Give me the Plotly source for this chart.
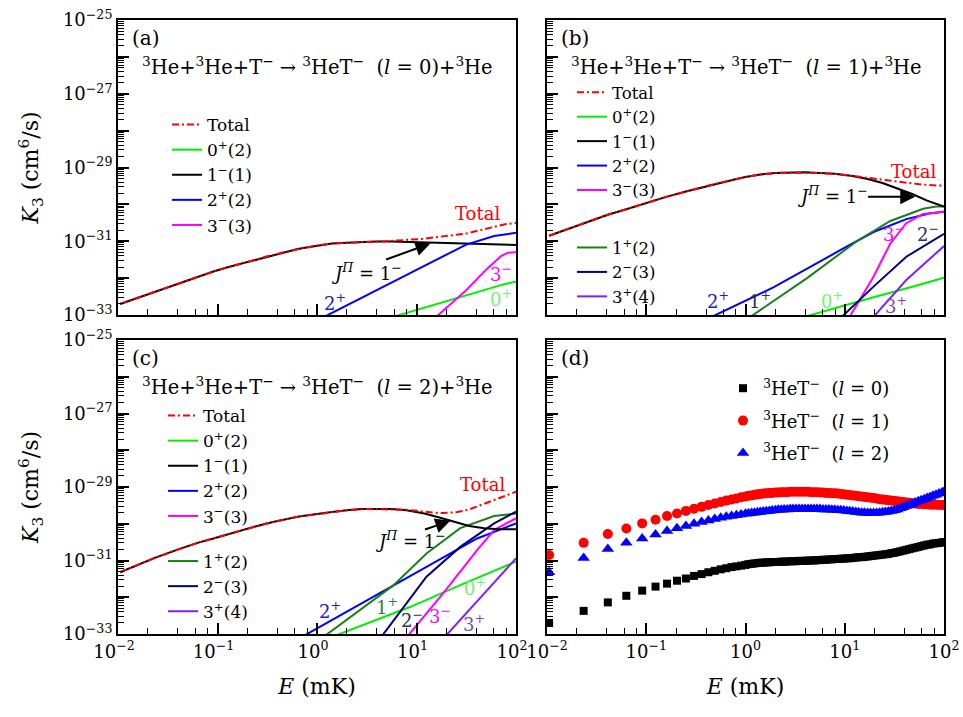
import numpy as np
import plotly.graph_objects as go

# ---------------- data ----------------
# Energies in mK; K3 values stored as log10(K3 / (cm^6/s)).
energy_grid_mK = [
    0.0105, 0.0234, 0.041, 0.063, 0.091, 0.124, 0.162, 0.204, 0.251, 0.303,
    0.361, 0.423, 0.49, 0.563, 0.64, 0.723, 0.81, 0.903, 1.0,
    1.07, 1.15, 1.23, 1.32, 1.41, 1.51, 1.62, 1.74, 1.86, 2.0,
    2.14, 2.29, 2.45, 2.63, 2.82, 3.02, 3.24, 3.47, 3.72, 3.98,
    4.27, 4.57, 4.90, 5.25, 5.62, 6.03, 6.46, 6.92, 7.41, 7.94,
    8.51, 9.12, 9.77, 10.5, 11.2, 12.0, 12.9, 13.8, 14.8, 15.8,
    17.0, 18.2, 19.5, 20.9, 22.4, 24.0, 25.7, 27.5, 29.5, 31.6,
    33.9, 36.3, 38.9, 41.7, 44.7, 47.9, 51.3, 55.0, 58.9, 63.1,
    67.6, 72.4, 77.6, 83.2, 89.1, 95.5, 100.0]

log_k3_total_l0 = [
    -32.70, -32.37, -32.14, -31.96, -31.82, -31.71, -31.63, -31.55, -31.49, -31.42,
    -31.37, -31.32, -31.28, -31.24, -31.21, -31.18, -31.16, -31.14, -31.12,
    -31.10, -31.09, -31.08, -31.07, -31.06, -31.06, -31.05, -31.05, -31.04, -31.04,
    -31.04, -31.03, -31.03, -31.03, -31.02, -31.02, -31.02, -31.01, -31.01, -31.01,
    -31.00, -31.00, -31.00, -30.99, -30.99, -30.98, -30.98, -30.97, -30.97, -30.96,
    -30.96, -30.95, -30.95, -30.94, -30.94, -30.93, -30.92, -30.91, -30.91, -30.90,
    -30.89, -30.88, -30.87, -30.86, -30.85, -30.84, -30.83, -30.82, -30.80, -30.79,
    -30.77, -30.75, -30.73, -30.71, -30.69, -30.67, -30.65, -30.63, -30.61, -30.59,
    -30.57, -30.56, -30.54, -30.53, -30.52, -30.51, -30.50]

log_k3_total_l1 = [
    -30.85, -30.52, -30.28, -30.13, -29.99, -29.89, -29.79, -29.72, -29.65, -29.59,
    -29.54, -29.49, -29.45, -29.41, -29.37, -29.34, -29.31, -29.28, -29.26,
    -29.24, -29.23, -29.21, -29.20, -29.19, -29.18, -29.17, -29.16, -29.16, -29.15,
    -29.15, -29.14, -29.14, -29.14, -29.13, -29.13, -29.13, -29.13, -29.13, -29.13,
    -29.13, -29.14, -29.14, -29.14, -29.15, -29.15, -29.16, -29.16, -29.17, -29.17,
    -29.18, -29.19, -29.20, -29.21, -29.22, -29.23, -29.24, -29.25, -29.26, -29.27,
    -29.28, -29.29, -29.30, -29.31, -29.33, -29.34, -29.35, -29.36, -29.37, -29.38,
    -29.39, -29.40, -29.41, -29.42, -29.43, -29.44, -29.45, -29.46, -29.46, -29.47,
    -29.47, -29.48, -29.48, -29.48, -29.49, -29.49, -29.49]

log_k3_total_l2 = [
    -31.32, -30.93, -30.69, -30.52, -30.40, -30.29, -30.20, -30.12, -30.06, -30.00,
    -29.95, -29.91, -29.87, -29.84, -29.81, -29.79, -29.77, -29.75, -29.73,
    -29.72, -29.71, -29.70, -29.69, -29.68, -29.67, -29.66, -29.65, -29.64, -29.63,
    -29.62, -29.62, -29.61, -29.61, -29.60, -29.60, -29.60, -29.60, -29.60, -29.60,
    -29.60, -29.60, -29.60, -29.60, -29.60, -29.61, -29.61, -29.61, -29.62, -29.62,
    -29.63, -29.63, -29.64, -29.65, -29.66, -29.67, -29.68, -29.69, -29.70, -29.70,
    -29.71, -29.71, -29.71, -29.71, -29.70, -29.69, -29.68, -29.67, -29.65, -29.63,
    -29.61, -29.58, -29.55, -29.52, -29.49, -29.46, -29.42, -29.39, -29.36, -29.33,
    -29.30, -29.27, -29.24, -29.21, -29.18, -29.15, -29.13]

# J^Pi = 1^- (1) partial rate for each panel
energy_1minus_mK = [0.0105, 0.0234, 0.041, 0.063, 0.091, 0.124, 0.162, 0.251, 0.361,
                    0.49, 0.64, 0.81, 1.0, 1.41, 2.0, 2.82, 3.98, 5.62, 7.94, 12.0,
                    17.0, 24.0, 33.9, 47.9, 67.6, 100.0]
log_k3_1minus_l0 = [-32.70, -32.37, -32.14, -31.96, -31.82, -31.71, -31.63, -31.49, -31.37,
                    -31.28, -31.21, -31.16, -31.12, -31.06, -31.04, -31.02, -31.01, -31.01,
                    -31.02, -31.04, -31.05, -31.07, -31.08, -31.09, -31.10, -31.10]
log_k3_1minus_l1 = [-30.85, -30.52, -30.28, -30.13, -29.99, -29.89, -29.79, -29.65, -29.54,
                    -29.45, -29.37, -29.31, -29.26, -29.19, -29.15, -29.13, -29.13, -29.15,
                    -29.17, -29.23, -29.31, -29.42, -29.56, -29.72, -29.90, -30.06]
log_k3_1minus_l2 = [-31.32, -30.93, -30.69, -30.52, -30.40, -30.29, -30.20, -30.06, -29.95,
                    -29.87, -29.81, -29.77, -29.73, -29.68, -29.63, -29.60, -29.60, -29.60,
                    -29.63, -29.72, -29.83, -29.95, -30.06, -30.12, -30.15, -30.15]

# panel (a), l = 0
a_0plus_E = [6.0, 15.8, 39.8, 79.4, 100.0]
a_0plus_K = [-33.04, -32.70, -32.38, -32.15, -32.10]
a_2plus_E = [1.0, 3.16, 10.0, 31.6, 60.3, 100.0]
a_2plus_K = [-33.15, -32.46, -31.76, -31.09, -30.86, -30.77]
a_3minus_E = [15.8, 31.6, 50.1, 70.8, 83.2, 100.0]
a_3minus_K = [-33.05, -32.33, -31.77, -31.40, -31.31, -31.30]

# panel (b), l = 1
b_0plus_E = [4.17, 10.0, 19.5, 50.1, 100.0]
b_0plus_K = [-33.03, -32.73, -32.52, -32.22, -31.99]
b_2plus_E = [0.457, 1.91, 8.91, 19.5, 41.7, 70.8, 100.0]
b_2plus_K = [-33.05, -32.25, -31.25, -30.75, -30.40, -30.25, -30.20]
b_3minus_E = [11.2, 19.5, 28.8, 41.7, 61.7, 100.0]
b_3minus_K = [-33.05, -31.96, -31.06, -30.51, -30.26, -30.20]
b_1plus_E = [1.12, 4.17, 13.2, 19.5, 28.8, 61.7, 83.2, 100.0]
b_1plus_K = [-33.05, -32.00, -31.00, -30.72, -30.45, -30.12, -30.06, -30.06]
b_2minus_E = [9.33, 19.5, 41.7, 100.0]
b_2minus_K = [-33.05, -32.23, -31.42, -30.80]
b_3plus_E = [19.5, 41.7, 100.0]
b_3plus_K = [-33.05, -32.05, -31.13]

# panel (c), l = 2
c_0plus_E = [1.58, 8.71, 27.5, 100.0]
c_0plus_K = [-33.03, -32.26, -31.67, -31.03]
c_2plus_E = [0.76, 5.89, 18.6, 40.7, 100.0]
c_2plus_K = [-33.03, -31.67, -30.90, -30.40, -29.99]
c_3minus_E = [8.32, 18.6, 40.7, 60.3, 100.0]
c_3minus_K = [-33.03, -31.89, -30.72, -30.17, -29.85]
c_1plus_E = [1.23, 5.89, 12.6, 27.5, 60.3, 100.0]
c_1plus_K = [-33.03, -31.67, -30.81, -30.12, -29.79, -29.72]
c_2minus_E = [4.57, 12.6, 27.5, 60.3, 100.0]
c_2minus_K = [-33.03, -31.44, -30.63, -29.99, -29.67]
c_3plus_E = [20.0, 100.0]
c_3plus_K = [-33.03, -30.94]

x_tick_values = [0.01, 0.1, 1, 10, 100]
x_tick_labels = ["10<sup>\u22122</sup>", "10<sup>\u22121</sup>", "10<sup>0</sup>",
                 "10<sup>1</sup>", "10<sup>2</sup>"]
y_tick_exponents = [-33, -32, -31, -30, -29, -28, -27, -26, -25]

# ---------------- styling ----------------
FONT = "DejaVu Serif"
C_TOTAL = "#ff0000"
C_0P = "#00ee00"
C_1M = "#000000"
C_2P = "#0000ff"
C_3M = "#ff00ff"
C_1P = "#1a7f1a"
C_2M = "#000080"
C_3P = "#7f1fff"


def kv(v):
    return np.power(10.0, np.asarray(v, dtype=float))


fig = go.Figure()


def add_line(E, K, name, color, xa, ya, legend, rank, group="g1", dash="solid", width=2):
    fig.add_trace(go.Scatter(
        x=E, y=kv(K), mode="lines", name=name,
        line=dict(color=color, width=width, dash=dash),
        xaxis=xa, yaxis=ya, legend=legend, legendrank=rank, legendgroup=group))


DASHDOT = "7px,3px,2px,3px"

# panel (a)
add_line(a_0plus_E, a_0plus_K, "0<sup>+</sup>(2)", C_0P, "x", "y", "legend", 2)
add_line(energy_1minus_mK, log_k3_1minus_l0, "1<sup>\u2212</sup>(1)", C_1M, "x", "y", "legend", 3)
add_line(a_2plus_E, a_2plus_K, "2<sup>+</sup>(2)", C_2P, "x", "y", "legend", 4)
add_line(a_3minus_E, a_3minus_K, "3<sup>\u2212</sup>(3)", C_3M, "x", "y", "legend", 5)
add_line(energy_grid_mK, log_k3_total_l0, "Total", C_TOTAL, "x", "y", "legend", 1, dash=DASHDOT)

# panel (b)
add_line(b_0plus_E, b_0plus_K, "0<sup>+</sup>(2)", C_0P, "x2", "y2", "legend2", 2)
add_line(b_2plus_E, b_2plus_K, "2<sup>+</sup>(2)", C_2P, "x2", "y2", "legend2", 4)
add_line(b_3minus_E, b_3minus_K, "3<sup>\u2212</sup>(3)", C_3M, "x2", "y2", "legend2", 5)
add_line(b_1plus_E, b_1plus_K, "1<sup>+</sup>(2)", C_1P, "x2", "y2", "legend2", 6, group="g2")
add_line(b_2minus_E, b_2minus_K, "2<sup>\u2212</sup>(3)", C_2M, "x2", "y2", "legend2", 7, group="g2")
add_line(b_3plus_E, b_3plus_K, "3<sup>+</sup>(4)", C_3P, "x2", "y2", "legend2", 8, group="g2")
add_line(energy_1minus_mK, log_k3_1minus_l1, "1<sup>\u2212</sup>(1)", C_1M, "x2", "y2", "legend2", 3)
add_line(energy_grid_mK, log_k3_total_l1, "Total", C_TOTAL, "x2", "y2", "legend2", 1, dash=DASHDOT)

# panel (c)
add_line(c_0plus_E, c_0plus_K, "0<sup>+</sup>(2)", C_0P, "x3", "y3", "legend3", 2)
add_line(c_2plus_E, c_2plus_K, "2<sup>+</sup>(2)", C_2P, "x3", "y3", "legend3", 4)
add_line(c_3minus_E, c_3minus_K, "3<sup>\u2212</sup>(3)", C_3M, "x3", "y3", "legend3", 5)
add_line(c_1plus_E, c_1plus_K, "1<sup>+</sup>(2)", C_1P, "x3", "y3", "legend3", 6, group="g2")
add_line(c_2minus_E, c_2minus_K, "2<sup>\u2212</sup>(3)", C_2M, "x3", "y3", "legend3", 7, group="g2")
add_line(c_3plus_E, c_3plus_K, "3<sup>+</sup>(4)", C_3P, "x3", "y3", "legend3", 8, group="g2")
add_line(energy_1minus_mK, log_k3_1minus_l2, "1<sup>\u2212</sup>(1)", C_1M, "x3", "y3", "legend3", 3)
add_line(energy_grid_mK, log_k3_total_l2, "Total", C_TOTAL, "x3", "y3", "legend3", 1, dash=DASHDOT)

# panel (d)
for K, name, sym, col, size, grp in [
        (log_k3_total_l0, "<sup>3</sup>HeT<sup>\u2212</sup>  (<i>l</i> = 0)", "square", "#000000", 8, "d0"),
        (log_k3_total_l1, "<sup>3</sup>HeT<sup>\u2212</sup>  (<i>l</i> = 1)", "circle", "#ff0000", 10, "d1"),
        (log_k3_total_l2, "<sup>3</sup>HeT<sup>\u2212</sup>  (<i>l</i> = 2)", "triangle-up", "#0000ff", 11, "d2")]:
    fig.add_trace(go.Scatter(
        x=energy_grid_mK, y=kv(K), mode="markers", name=name,
        marker=dict(symbol=sym, color=col, size=size, line=dict(width=0)),
        xaxis="x4", yaxis="y4", legend="legend4", legendgroup=grp))

# ---------------- axes ----------------
x_minor = [m * 10.0 ** p for p in range(-2, 2) for m in (2, 4, 6, 8)]
y_minor = [m * 10.0 ** p for p in range(-33, -25) for m in range(2, 10)]
y_tick_values = [10.0 ** e for e in y_tick_exponents]
y_tick_labels = [("10<sup>\u2212%d</sup>" % (-e)) if (e % 2) else "" for e in y_tick_exponents]

XD_L = [118 / 963, 516 / 963]
XD_R = [547 / 963, 944 / 963]
YD_T = [1 - 315 / 717, 1 - 20 / 717]
YD_B = [1 - 634 / 717, 1 - 340 / 717]

tickfont = dict(family=FONT, size=18, color="black")
titlefont = dict(family=FONT, size=22, color="black")


def xax(domain, anchor, labels, title=None, shift=0):
    d = dict(type="log", range=[-2, 2], domain=domain, anchor=anchor,
             showline=True, linecolor="black", linewidth=2, mirror=True,
             ticks="inside", ticklen=11, tickwidth=1.6, tickcolor="black",
             tickmode="array", tickvals=x_tick_values, ticktext=x_tick_labels,
             showticklabels=labels, tickfont=tickfont, showgrid=False, zeroline=False,
             ticklabelshift=shift, ticklabeloverflow="allow",
             minor=dict(ticks="inside", ticklen=6, tickwidth=1.3, tickcolor="black",
                        tickmode="array", tickvals=x_minor, showgrid=False),
             automargin=False)
    if title:
        d["title"] = dict(text=title, font=titlefont, standoff=18)
    return d


def yax(domain, anchor, labels, title=None):
    d = dict(type="log", range=[-33, -25], domain=domain, anchor=anchor,
             showline=True, linecolor="black", linewidth=2, mirror=True,
             ticks="inside", ticklen=11, tickwidth=1.6, tickcolor="black",
             tickmode="array", tickvals=y_tick_values, ticktext=y_tick_labels,
             showticklabels=labels, tickfont=tickfont, showgrid=False, zeroline=False,
             minor=dict(ticks="inside", ticklen=6, tickwidth=1.3, tickcolor="black",
                        tickmode="array", tickvals=y_minor, showgrid=False),
             automargin=False)
    if title:
        d["title"] = dict(text=title, font=titlefont, standoff=18)
    return d


K3_TITLE = "<i>K</i><sub>3</sub> (cm<sup>6</sup>/s)"
E_TITLE = "<i>E</i> (mK)"

fig.update_layout(
    xaxis=xax(XD_L, "y", False), yaxis=yax(YD_T, "x", True, K3_TITLE),
    xaxis2=xax(XD_R, "y2", False), yaxis2=yax(YD_T, "x2", False),
    xaxis3=xax(XD_L, "y3", True, E_TITLE, shift=-4), yaxis3=yax(YD_B, "x3", True, K3_TITLE),
    xaxis4=xax(XD_R, "y4", True, E_TITLE, shift=0), yaxis4=yax(YD_B, "x4", False),
)


def legfont(size):
    return dict(family=FONT, size=size, color="black")


common_leg = dict(xanchor="left", yanchor="top", bgcolor="rgba(0,0,0,0)",
                  borderwidth=0, traceorder="grouped")
fig.update_layout(
    legend=dict(x=167 / 963, y=1 - 107 / 717, tracegroupgap=0, font=legfont(17), **common_leg),
    legend2=dict(x=572 / 963, y=1 - 75 / 717, tracegroupgap=33, font=legfont(16.5), **common_leg),
    legend3=dict(x=163 / 963, y=1 - 398 / 717, tracegroupgap=20, font=legfont(17), **common_leg),
    legend4=dict(x=723 / 963, y=1 - 370 / 717, tracegroupgap=6, font=legfont(18), **common_leg),
)

# ---------------- annotations ----------------
ann = []


def txt(xref, yref, x, y, text, color="black", size=18, xanchor="center"):
    ann.append(dict(xref=xref, yref=yref, x=x, y=y, text=text, showarrow=False,
                    xanchor=xanchor, yanchor="middle",
                    font=dict(family=FONT, size=size, color=color)))


def arrow(xref, yref, tail, head):
    ann.append(dict(xref=xref, yref=yref, axref=xref, ayref=yref,
                    x=head[0], y=head[1], ax=tail[0], ay=tail[1], text="",
                    showarrow=True, arrowhead=2, arrowsize=1.5, arrowwidth=2,
                    arrowcolor="black"))


REACT = ("<sup>3</sup>He+<sup>3</sup>He+T<sup>\u2212</sup> \u2192 <sup>3</sup>HeT<sup>\u2212</sup>"
         "  (<i>l</i> = %d)+<sup>3</sup>He")
JPI = "<i>J</i><sup><i>\u03a0</i></sup> = 1<sup>\u2212</sup>"

for i, (lab, xr, yr) in enumerate([("(a)", "x domain", "y domain"), ("(b)", "x2 domain", "y2 domain"),
                                   ("(c)", "x3 domain", "y3 domain"), ("(d)", "x4 domain", "y4 domain")]):
    txt(xr, yr, 0.03, 0.94, lab, size=20, xanchor="left")
    if i < 3:
        txt(xr, yr, 0.055, 0.843, REACT % i, size=19.5, xanchor="left")

# (a)
txt("x", "y", 0.18, -32.64, "2<sup>+</sup>", "#2222bb")
txt("x", "y", 1.85, -31.87, "3<sup>\u2212</sup>", C_3M)
txt("x", "y", 1.85, -32.55, "0<sup>+</sup>", "#77ee77")
txt("x", "y", 1.61, -30.24, "Total", C_TOTAL)
txt("x", "y", 0.5, -31.83, JPI)
arrow("x", "y", (0.68, -31.51), (1.14, -31.06))
# (b)
txt("x2", "y2", -0.28, -32.6, "2<sup>+</sup>", "#2222bb")
txt("x2", "y2", 0.15, -32.6, "1<sup>+</sup>", "#333333")
txt("x2", "y2", 0.87, -32.6, "0<sup>+</sup>", "#77ee77")
txt("x2", "y2", 1.52, -32.73, "3<sup>+</sup>", "#7a4aa8")
txt("x2", "y2", 1.5, -30.77, "3<sup>\u2212</sup>", C_3M)
txt("x2", "y2", 1.84, -30.77, "2<sup>\u2212</sup>", "#303060")
txt("x2", "y2", 1.69, -29.1, "Total", C_TOTAL)
txt("x2", "y2", 0.88, -29.75, JPI)
arrow("x2", "y2", (1.22, -29.79), (1.71, -29.79))
# (c)
txt("x3", "y3", 0.13, -32.35, "2<sup>+</sup>", "#2222bb")
txt("x3", "y3", 0.70, -32.24, "1<sup>+</sup>", "#2e7d4a")
txt("x3", "y3", 1.59, -31.71, "0<sup>+</sup>", "#77ee77")
txt("x3", "y3", 0.95, -32.6, "2<sup>\u2212</sup>", "#303060")
txt("x3", "y3", 1.24, -32.48, "3<sup>\u2212</sup>", C_3M)
txt("x3", "y3", 1.58, -32.69, "3<sup>+</sup>", "#7a4aa8")
txt("x3", "y3", 1.66, -28.92, "Total", C_TOTAL)
txt("x3", "y3", 0.94, -30.44, JPI)
arrow("x3", "y3", (1.07, -30.17), (1.34, -29.92))

fig.update_layout(
    annotations=ann,
    width=963, height=717,
    margin=dict(l=0, r=0, t=0, b=0),
    paper_bgcolor="white", plot_bgcolor="white",
    showlegend=True,
    font=dict(family=FONT, color="black"),
)

fig.write_html("out.html")
